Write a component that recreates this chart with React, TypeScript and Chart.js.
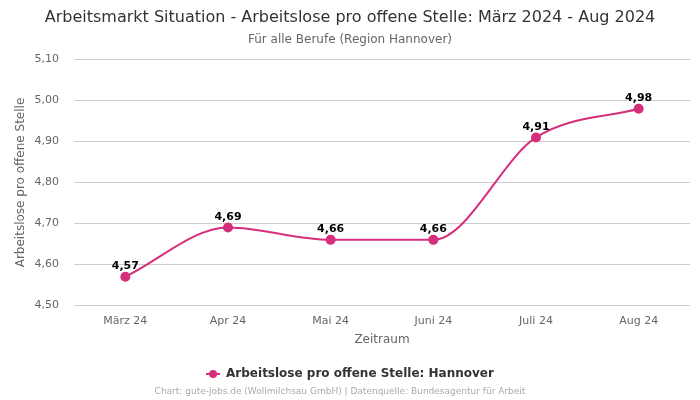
import React, { useEffect, useRef } from "react";
import { Chart, registerables } from "chart.js";

Chart.register(...registerables);

const categories = ["März 24", "Apr 24", "Mai 24", "Juni 24", "Juli 24", "Aug 24"];
const seriesValues = [4.57, 4.69, 4.66, 4.66, 4.91, 4.98];
const seriesLabel = "Arbeitslose pro offene Stelle: Hannover";
const titleText = "Arbeitsmarkt Situation - Arbeitslose pro offene Stelle: März 2024 - Aug 2024";
const subtitleText = "Für alle Berufe (Region Hannover)";
const footerText = "Chart: gute-jobs.de (Wollmilchsau GmbH) | Datenquelle: Bundesagentur für Arbeit";
const yTitle = "Arbeitslose pro offene Stelle";
const xTitle = "Zeitraum";

const COLOR = "rgb(214, 45, 125)";
const FONT = "'DejaVu Sans', sans-serif";

const fmt = (v: number) => v.toFixed(2).replace(".", ",");

const labelPlugin = {
  id: "valueLabels",
  afterDatasetsDraw(chart: any) {
    const ctx = chart.ctx;
    const meta = chart.getDatasetMeta(0);
    ctx.save();
    ctx.font = `bold 11px ${FONT}`;
    ctx.fillStyle = "#000";
    ctx.textAlign = "center";
    ctx.textBaseline = "bottom";
    meta.data.forEach((pt: any, i: number) => {
      ctx.fillText(fmt(seriesValues[i]), pt.x, pt.y - 5);
    });
    ctx.restore();
  },
};

const footerPlugin = {
  id: "footerText",
  afterDraw(chart: any) {
    const ctx = chart.ctx;
    ctx.save();
    ctx.font = `9px ${FONT}`;
    ctx.fillStyle = "#aaa";
    ctx.textAlign = "center";
    ctx.textBaseline = "middle";
    ctx.fillText(footerText, 340, 392);
    ctx.restore();
  },
};

function makeLegendIcon() {
  const c = document.createElement("canvas");
  c.width = 14;
  c.height = 10;
  const g = c.getContext("2d")!;
  g.strokeStyle = COLOR;
  g.lineWidth = 2;
  g.beginPath();
  g.moveTo(0, 5);
  g.lineTo(14, 5);
  g.stroke();
  g.fillStyle = COLOR;
  g.beginPath();
  g.arc(7, 5, 4, 0, Math.PI * 2);
  g.fill();
  return c;
}

export default function App() {
  const ref = useRef<HTMLCanvasElement>(null);
  useEffect(() => {
    document.body.style.margin = "0";
    const icon = makeLegendIcon();
    const chart = new Chart(ref.current!, {
      type: "line",
      data: {
        labels: categories,
        datasets: [
          {
            label: seriesLabel,
            data: seriesValues,
            borderColor: COLOR,
            backgroundColor: COLOR,
            borderWidth: 2,
            pointRadius: 4,
            pointHoverRadius: 4,
            pointStyle: "circle",
            cubicInterpolationMode: "monotone",
            fill: false,
          } as any,
        ],
      },
      options: {
        animation: false,
        responsive: false,
        maintainAspectRatio: false,
        layout: { padding: { left: 10, right: 10, bottom: 10 } },
        plugins: {
          title: {
            display: true,
            text: titleText,
            color: "#333",
            font: { family: FONT, size: 16, weight: "normal" },
            padding: { top: 8, bottom: 5 },
          },
          subtitle: {
            display: true,
            text: subtitleText,
            color: "#666",
            font: { family: FONT, size: 12 },
            padding: { bottom: 13 },
          },
          legend: {
            display: true,
            position: "bottom",
            labels: {
              usePointStyle: true,
              pointStyleWidth: 14,
              generateLabels: () => [
                {
                  text: seriesLabel,
                  pointStyle: icon as any,
                  fillStyle: COLOR,
                  strokeStyle: COLOR,
                  fontColor: "#333",
                  lineWidth: 0,
                  datasetIndex: 0,
                } as any,
              ],
              color: "#333",
              font: { family: FONT, size: 12, weight: "bold" },
              padding: 10,
            },
          },
          tooltip: { enabled: false },
        },
        scales: {
          x: {
            offset: true,
            grid: { display: false },
            border: { display: false },
            ticks: { color: "#666", font: { family: FONT, size: 11 }, padding: 1 },
            title: {
              display: true,
              text: xTitle,
              color: "#666",
              font: { family: FONT, size: 12 },
              padding: { top: 4, bottom: 11 },
            },
          },
          y: {
            min: 4.5,
            max: 5.1,
            border: { display: false },
            grid: { color: "#ccc", drawTicks: false },
            afterFit: (axis: any) => {
              axis.width = 64;
            },
            ticks: {
              stepSize: 0.1,
              color: "#666",
              font: { family: FONT, size: 11 },
              padding: 15,
              callback: (v: any) => fmt(Number(v)),
            },
            title: {
              display: true,
              text: yTitle,
              color: "#666",
              font: { family: FONT, size: 12 },
            },
          },
        },
      },
      plugins: [labelPlugin, footerPlugin],
    });
    return () => chart.destroy();
  }, []);
  return (
    <div style={{ width: 700, height: 400 }}>
      <canvas ref={ref} width={700} height={400} style={{ display: "block" }} />
    </div>
  );
}
